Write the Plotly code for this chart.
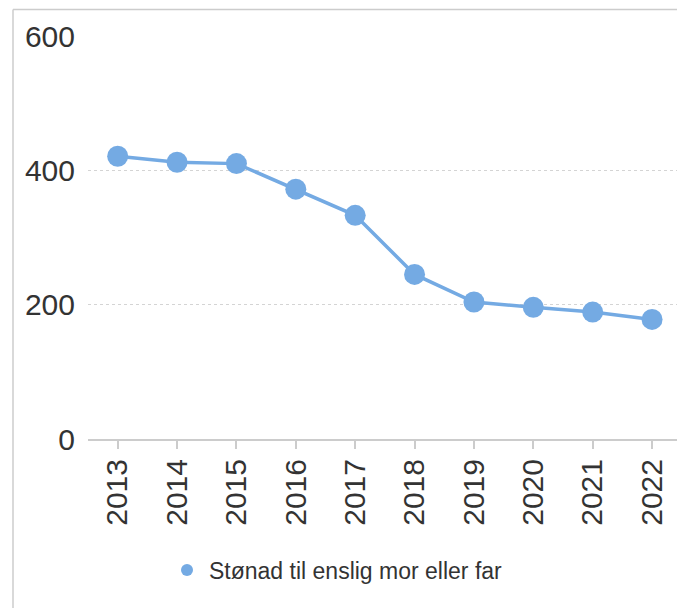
import plotly.graph_objects as go

years = ["2013", "2014", "2015", "2016", "2017", "2018", "2019", "2020", "2021", "2022"]
values = [421, 412, 410, 372, 333, 245, 204, 196, 189, 178]
series_name = "Stønad til enslig mor eller far"
y_ticks = [0, 200, 400, 600]

color = "#74aae3"
font = "Liberation Sans, Arial, sans-serif"

fig = go.Figure()
fig.add_trace(go.Scatter(x=years, y=values, mode="lines",
                         line=dict(color=color, width=3.5),
                         showlegend=False, hoverinfo="skip"))
fig.add_trace(go.Scatter(x=years, y=values, mode="markers", name=series_name,
                         marker=dict(color=color, size=21)))

fig.update_layout(
    width=677, height=608,
    margin=dict(l=88, r=0, t=36, b=169),
    paper_bgcolor="white", plot_bgcolor="white",
    font=dict(family=font, color="#333333"),
    xaxis=dict(type="category", range=[-0.5, 9.42],
               tickangle=-90, tickfont=dict(size=30, color="#333333"),
               ticks="outside", ticklen=8, tickcolor="#cccccc", tickwidth=2,
               showline=True, linecolor="#cccccc", linewidth=2,
               showgrid=False, zeroline=False, ticklabelstandoff=-2),
    yaxis=dict(range=[0, 600], tickvals=y_ticks,
               tickfont=dict(size=30, color="#333333"),
               showgrid=True, gridcolor="#d4d4d4", griddash="dot", gridwidth=1,
               zeroline=False, showline=False, ticklabelstandoff=12),
    legend=dict(orientation="h", xref="container", yref="container",
                x=0.5 - 2 / 677, xanchor="center", y=1 - 570 / 608, yanchor="middle",
                font=dict(size=23, color="#333333"), itemsizing="constant",
                itemwidth=34),
    shapes=[
        dict(type="line", xref="paper", yref="paper",
             x0=(13 - 88) / 589, x1=1.05, y0=(439 - 9.5) / 403, y1=(439 - 9.5) / 403,
             line=dict(color="#cccccc", width=1.5)),
        dict(type="line", xref="paper", yref="paper",
             x0=(13 - 88) / 589, x1=(13 - 88) / 589, y0=(439 - 9.5) / 403, y1=-0.5,
             line=dict(color="#cccccc", width=1.5)),
    ],
)

fig.write_html("out.html", config={"displayModeBar": False},
               post_script="document.body.style.margin='0';document.body.style.overflow='hidden';")
